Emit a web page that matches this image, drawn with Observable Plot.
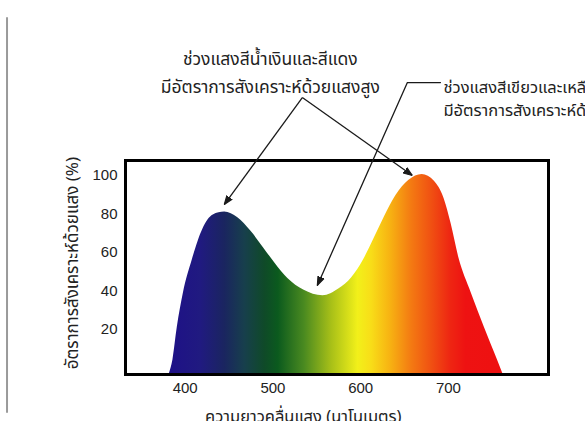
<!DOCTYPE html>
<html>
<head>
<meta charset="utf-8">
<script src="https://cdn.jsdelivr.net/npm/d3@7"></script>
<script src="https://cdn.jsdelivr.net/npm/@observablehq/plot@0.6"></script>
<style>
  html, body { margin: 0; padding: 0; background: #fff; overflow: hidden; width: 585px; height: 421px; }
  #chart svg { display: block; overflow: visible; }
</style>
</head>
<body>
<div id="chart"></div>
<script>
// ---- data ----
const wavelength = [382, 386, 391, 398, 408, 420, 432, 445, 460, 475, 490, 503, 517, 535, 557, 575, 590, 603, 615, 627, 640, 655, 670, 684, 695, 703, 712, 726, 741, 756, 762];
const rate       = [-3,  4,   21,  39,  56,  72,  79.5, 81, 78,  71,  62,  54,  46.5, 40.5, 37.5, 41, 47, 56, 67, 78.5, 89.5, 97.5, 100.5, 97, 88, 75, 57, 39, 21, 4, -3];

// spectrum colours along the wavelength axis
const spectrumWavelength = [380, 418, 445, 468, 491, 506, 536, 567, 597, 612, 635, 658, 681, 703, 720, 780];
const spectrumColor = ["#1e1088", "#201a80", "#1a2560", "#173f4c", "#0f4a28", "#0b5a1e", "#4a8a20", "#a8c018",
                       "#f2f01a", "#f8de18", "#f7b012", "#f47a12", "#f05012", "#ee2512", "#ee1212", "#ee1010"];

const xTicks = [400, 500, 600, 700];
const yTicks = [20, 40, 60, 80, 100];
const xTitle = "ความยาวคลื่นแสง (นาโนเมตร)";
const yTitle = "อัตราการสังเคราะห์ด้วยแสง (%)";

const noteHighLines = ["ช่วงแสงสีน้ำเงินและสีแดง", "มีอัตราการสังเคราะห์ด้วยแสงสูง"];
const noteLowLines  = ["ช่วงแสงสีเขียวและเหลือง", "มีอัตราการสังเคราะห์ด้วยแสงต่ำ"];

// ---- annotation anchors, in data units (wavelength, %) ----
const noteHighAnchorX = 497, noteHighAnchorY = [160.5, 146];
const noteLowAnchorX = 694.3, noteLowAnchorY = [145.7, 133.8];
const highArrowFrom = {x: 533.5, y: 140.5};
const highArrowTo = [{x: 444.5, y: 84.9}, {x: 658.9, y: 100}];
const lowLeader = [{x: 690.9, y: 148.3}, {x: 653.2, y: 148.3}, {x: 550.6, y: 42.9}];
const xTitleAt = {x: 534.6, y: -25.5};
const yTitleAt = {x: 272, y: 54.5};
const sideRule = {x: 197, y1: 182, y2: -23.6};

// ---- build ----
const curve = wavelength.map((w, i) => ({w, r: rate[i]}));
const yMin = -3.4;

const thaiFont = "'Noto Sans Thai', 'Noto Sans Thai Looped', Tahoma, 'Noto Sans', sans-serif";
const numFont = "'Liberation Sans Narrow', 'Arial Narrow', 'Liberation Sans', Arial, sans-serif";

function spectrumDefs(index, scales, values, dimensions, context) {
  const w0 = spectrumWavelength[0], w1 = spectrumWavelength[spectrumWavelength.length - 1];
  const defs = d3.select(context.document.createElementNS(d3.namespaces.svg, "defs"));
  const g = defs.append("linearGradient")
    .attr("id", "spectrum-fill")
    .attr("gradientUnits", "userSpaceOnUse")
    .attr("x1", scales.x(w0)).attr("x2", scales.x(w1))
    .attr("y1", 0).attr("y2", 0);
  g.selectAll("stop")
    .data(d3.zip(spectrumWavelength, spectrumColor))
    .join("stop")
    .attr("offset", ([w]) => (w - w0) / (w1 - w0))
    .attr("stop-color", ([, c]) => c);
  return defs.node();
}

const filledArrow = (color, context) => {
  const m = context.document.createElementNS(d3.namespaces.svg, "marker");
  m.setAttribute("viewBox", "-10 -5 10 10");
  m.setAttribute("markerWidth", "9");
  m.setAttribute("markerHeight", "9");
  m.setAttribute("markerUnits", "userSpaceOnUse");
  m.setAttribute("orient", "auto");
  const p = context.document.createElementNS(d3.namespaces.svg, "path");
  p.setAttribute("d", "M-10,-3.6L0,0L-10,3.6Z");
  p.setAttribute("fill", color);
  m.appendChild(p);
  return m;
};

const lineColor = "#1a1a1a";

const chart = Plot.plot({
  width: 585,
  height: 421,
  marginLeft: 125,
  marginRight: 37,
  marginTop: 160,
  marginBottom: 47,
  style: {background: "white", fontFamily: numFont, fontSize: "15px", color: "#222", overflow: "visible"},
  x: {domain: [332, 814], ticks: xTicks, tickSize: 0, tickPadding: 8, label: null},
  y: {domain: [yMin, 107.8], ticks: yTicks, tickSize: 0, tickPadding: 8, label: null},
  marks: [
    spectrumDefs,
    Plot.areaY(curve, {x: "w", y1: yMin, y2: "r", curve: "monotone-x", fill: "url(#spectrum-fill)", clip: true}),
    Plot.frame({stroke: "black", strokeWidth: 3}),
    Plot.ruleX([sideRule], {x: "x", y1: "y1", y2: "y2", stroke: "#9a9a9a", strokeWidth: 2}),
    // high-rate annotation
    Plot.text(noteHighLines, {x: () => noteHighAnchorX, y: (d, i) => noteHighAnchorY[i], text: d => d,
      textAnchor: "middle", fontFamily: thaiFont, fontSize: 17.5, fill: "#222"}),
    Plot.link(highArrowTo, {x1: () => highArrowFrom.x, y1: () => highArrowFrom.y, x2: "x", y2: "y",
      stroke: lineColor, strokeWidth: 1.3, markerEnd: filledArrow}),
    // low-rate annotation
    Plot.text(noteLowLines, {x: () => noteLowAnchorX, y: (d, i) => noteLowAnchorY[i], text: d => d,
      textAnchor: "start", fontFamily: thaiFont, fontSize: 16.5, fill: "#222"}),
    Plot.line(lowLeader, {x: "x", y: "y", stroke: lineColor, strokeWidth: 1.3, markerEnd: filledArrow}),
    // axis titles
    Plot.text([xTitle], {x: () => xTitleAt.x, y: () => xTitleAt.y, text: d => d,
      fontFamily: thaiFont, fontSize: 16.5, fill: "#222"}),
    Plot.text([yTitle], {x: () => yTitleAt.x, y: () => yTitleAt.y, text: d => d, rotate: -90,
      fontFamily: thaiFont, fontSize: 17, fill: "#222"})
  ]
});

document.getElementById("chart").appendChild(chart);
</script>
</body>
</html>
